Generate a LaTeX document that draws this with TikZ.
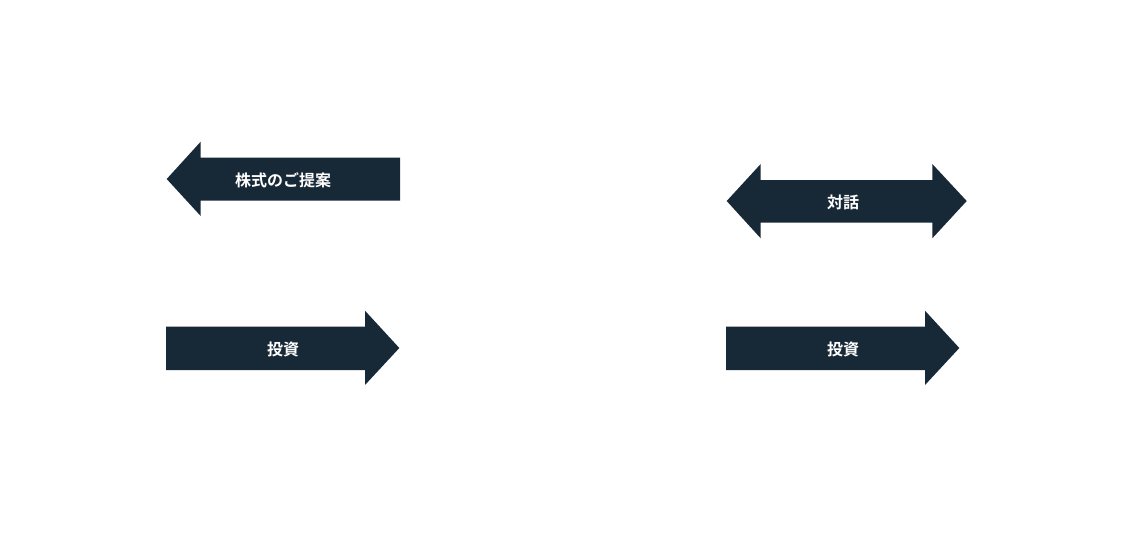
\documentclass[tikz,border=0pt]{standalone}
\usepackage{fontspec}
\newfontfamily\jpfont{Noto Sans CJK JP}[BoldFont={* Bold}]
\definecolor{navy}{HTML}{172837}
\begin{document}
\begin{tikzpicture}[x=1pt,y=-1pt,
  arrowshape/.style={fill=navy,draw=none},
  lbl/.style={text=white,font=\jpfont\bfseries\fontsize{16}{18}\selectfont,inner sep=0pt}]
\useasboundingbox (0,0) rectangle (1142,535);
% left-pointing arrow
\fill[arrowshape] (166.7,179) -- (200.7,141.7) -- (200.7,157.7) -- (400,157.7) -- (400,200.7) -- (200.7,200.7) -- (200.7,216) -- cycle;
\node[lbl] (a1) at (283,180) {株式のご提案};
% right-pointing arrow (left)
\fill[arrowshape] (166,326.7) -- (365,326.7) -- (365,310.7) -- (399.3,348) -- (365,385) -- (365,370) -- (166,370) -- cycle;
\node[lbl] (a2) at (283,349) {投資};
% double arrow
\fill[arrowshape] (726.7,201) -- (760.7,164) -- (760.7,180) -- (932.3,180) -- (932.3,164) -- (966.7,201) -- (932.3,238.3) -- (932.3,222.7) -- (760.7,222.7) -- (760.7,238.3) -- cycle;
\node[lbl] (a3) at (843,202) {対話};
% right-pointing arrow (right)
\fill[arrowshape] (726,326.7) -- (925,326.7) -- (925,310.7) -- (959.3,348) -- (925,385) -- (925,370) -- (726,370) -- cycle;
\node[lbl] (a4) at (843,349) {投資};
\end{tikzpicture}
\end{document}
